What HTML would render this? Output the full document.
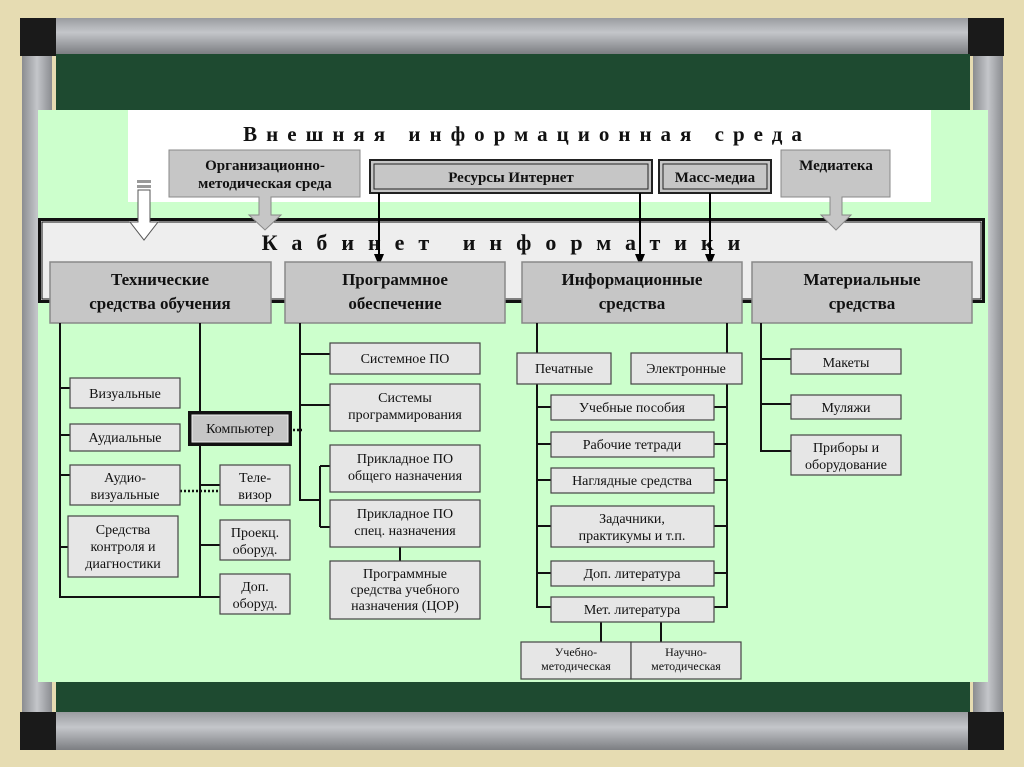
<!DOCTYPE html>
<html><head><meta charset="utf-8"><style>
html,body{margin:0;padding:0;background:#e6dcb2}
svg{display:block}
text{font-family:"Liberation Serif",serif;fill:#111}
.b{font-weight:bold}
</style></head><body>
<svg width="1024" height="767" viewBox="0 0 1024 767" xmlns="http://www.w3.org/2000/svg">
<defs>
<linearGradient id="rh" x1="0" y1="0" x2="0" y2="1"><stop offset="0" stop-color="#9a9ca0"/><stop offset=".4" stop-color="#c4c6ca"/><stop offset="1" stop-color="#7c7e82"/></linearGradient>
<linearGradient id="rv" x1="0" y1="0" x2="1" y2="0"><stop offset="0" stop-color="#8a8c90"/><stop offset=".5" stop-color="#c4c6ca"/><stop offset="1" stop-color="#8a8c90"/></linearGradient>
</defs>
<rect width="1024" height="767" fill="#e6dcb2"/>
<rect x="22" y="20" width="30" height="712" fill="url(#rv)"/>
<rect x="973" y="20" width="30" height="712" fill="url(#rv)"/>
<rect x="20" y="18" width="984" height="36" fill="url(#rh)"/>
<rect x="20" y="712" width="984" height="38" fill="url(#rh)"/>
<rect x="20" y="18" width="36" height="38" fill="#1a1a1a"/>
<rect x="968" y="18" width="36" height="38" fill="#1a1a1a"/>
<rect x="20" y="712" width="36" height="38" fill="#1a1a1a"/>
<rect x="968" y="712" width="36" height="38" fill="#1a1a1a"/>
<rect x="56" y="54" width="914" height="658" fill="#1e4a30"/>
<rect x="38" y="110" width="950" height="572" fill="#ccffcc"/>
<rect x="128" y="110" width="803" height="92" fill="#fff"/>
<text x="527" y="141" text-anchor="middle" class="b" font-size="21" letter-spacing="9">Внешняя   информационная   среда</text>
<rect x="38" y="218" width="947" height="85" fill="#111"/>
<rect x="41" y="221" width="941" height="79" fill="#eee"/>
<rect x="42" y="222" width="939" height="77" fill="none" stroke="#111" stroke-width="1"/>
<text x="508" y="250" text-anchor="middle" font-size="22" class="b" letter-spacing="14">Кабинет  информатики</text>
<rect x="137" y="180" width="14" height="3" fill="#999"/><rect x="137" y="185" width="14" height="3" fill="#999"/>
<path d="M138 190 H150 V222 H158 L144 240 L130 222 H138 Z" fill="#fff" stroke="#555"/>
<path d="M169 150 H360 V197 H271 V215 H281 L265 230 L249 215 H259 V197 H169 Z" fill="#c6c6c6" stroke="#888"/>
<text x="265" y="170" text-anchor="middle" class="b" font-size="15">Организационно-</text>
<text x="265" y="188" text-anchor="middle" class="b" font-size="15">методическая среда</text>
<path d="M781 150 H890 V197 H842 V215 H851 L836 230 L821 215 H830 V197 H781 Z" fill="#c6c6c6" stroke="#888"/>
<text x="836" y="170" text-anchor="middle" class="b" font-size="15">Медиатека</text>
<rect x="370" y="160" width="282" height="33" fill="#c6c6c6" stroke="#222" stroke-width="2"/>
<rect x="374" y="164" width="274" height="25" fill="none" stroke="#222" stroke-width="1"/>
<text x="511" y="182" text-anchor="middle" class="b" font-size="15">Ресурсы Интернет</text>
<rect x="659" y="160" width="112" height="33" fill="#c6c6c6" stroke="#222" stroke-width="2"/>
<rect x="663" y="164" width="104" height="25" fill="none" stroke="#222" stroke-width="1"/>
<text x="715" y="182" text-anchor="middle" class="b" font-size="15">Масс-медиа</text>
<g stroke="#000" stroke-width="2"><line x1="379" y1="193" x2="379" y2="255"/><line x1="640" y1="193" x2="640" y2="255"/><line x1="710" y1="193" x2="710" y2="255"/></g>
<g fill="#000"><path d="M374 254 L384 254 L379 266 Z"/><path d="M635 254 L645 254 L640 266 Z"/><path d="M705 254 L715 254 L710 266 Z"/></g>
<g fill="#c6c6c6" stroke="#888" stroke-width="1.5">
<rect x="50" y="262" width="221" height="61"/><rect x="285" y="262" width="220" height="61"/>
<rect x="522" y="262" width="220" height="61"/><rect x="752" y="262" width="220" height="61"/>
</g>
<g class="b" font-size="17" text-anchor="middle">
<text x="160" y="285">Технические</text><text x="160" y="309">средства обучения</text>
<text x="395" y="285">Программное</text><text x="395" y="309">обеспечение</text>
<text x="632" y="285">Информационные</text><text x="632" y="309">средства</text>
<text x="862" y="285">Материальные</text><text x="862" y="309">средства</text>
</g>
<g stroke="#111" stroke-width="2" fill="none">
<path d="M60 323 V597 H222 M200 323 V597"/>
<path d="M60 388 H70 M60 435 H70 M60 475 H70 M60 547 H68 M200 485 H220 M200 545 H220"/>
<path d="M300 323 V500 H320 M300 354 H330 M300 405 H330 M320 466 V527 M320 466 H330 M320 527 H330 M400 547 V561"/>
<path d="M537 323 V353 M727 323 V353 M537 384 V607 H551 M727 384 V607 H714"/>
<path d="M537 407 H551 M537 444 H551 M537 480 H551 M537 526 H551 M537 573 H551 M714 407 H727 M714 444 H727 M714 480 H727 M714 526 H727 M714 573 H727 M601 622 V642 M661 622 V642"/>
<path d="M761 323 V451 H791 M761 359 H791 M761 404 H791"/>
</g>
<g stroke="#111" stroke-width="2.5" stroke-dasharray="2 2"><line x1="180" y1="491" x2="220" y2="491"/><line x1="293" y1="430" x2="302" y2="430"/></g>
<g fill="#e6e6e6" stroke="#444" stroke-width="1.2">
<rect x="70" y="378" width="110" height="30"/><rect x="70" y="424" width="110" height="27"/>
<rect x="70" y="465" width="110" height="40"/><rect x="68" y="516" width="110" height="61"/>
<rect x="220" y="465" width="70" height="40"/><rect x="220" y="520" width="70" height="40"/><rect x="220" y="574" width="70" height="40"/>
<rect x="330" y="343" width="150" height="31"/><rect x="330" y="384" width="150" height="47"/>
<rect x="330" y="445" width="150" height="47"/><rect x="330" y="500" width="150" height="47"/><rect x="330" y="561" width="150" height="58"/>
<rect x="517" y="353" width="94" height="31"/><rect x="631" y="353" width="111" height="31"/>
<rect x="551" y="395" width="163" height="25"/><rect x="551" y="432" width="163" height="25"/><rect x="551" y="468" width="163" height="25"/>
<rect x="551" y="506" width="163" height="41"/><rect x="551" y="561" width="163" height="25"/><rect x="551" y="597" width="163" height="25"/>
<rect x="521" y="642" width="110" height="37"/><rect x="631" y="642" width="110" height="37"/>
<rect x="791" y="349" width="110" height="25"/><rect x="791" y="395" width="110" height="24"/><rect x="791" y="435" width="110" height="40"/>
</g>
<rect x="188" y="411" width="104" height="35" fill="#111"/>
<rect x="192" y="415" width="96" height="27" fill="#c6c6c6" stroke="#eee" stroke-width="1"/>
<g font-size="14" text-anchor="middle">
<text x="125" y="398">Визуальные</text><text x="125" y="442">Аудиальные</text>
<text x="125" y="482">Аудио-</text><text x="125" y="499">визуальные</text>
<text x="123" y="534">Средства</text><text x="123" y="551">контроля и</text><text x="123" y="568">диагностики</text>
<text x="240" y="433">Компьютер</text>
<text x="255" y="482">Теле-</text><text x="255" y="499">визор</text>
<text x="255" y="537">Проекц.</text><text x="255" y="554">оборуд.</text>
<text x="255" y="591">Доп.</text><text x="255" y="608">оборуд.</text>
<text x="405" y="363">Системное ПО</text>
<text x="405" y="402">Системы</text><text x="405" y="419">программирования</text>
<text x="405" y="463">Прикладное ПО</text><text x="405" y="480">общего назначения</text>
<text x="405" y="518">Прикладное ПО</text><text x="405" y="535">спец. назначения</text>
<text x="405" y="578">Программные</text><text x="405" y="594">средства учебного</text><text x="405" y="610">назначения (ЦОР)</text>
<text x="564" y="373">Печатные</text><text x="686" y="373">Электронные</text>
<text x="632" y="412">Учебные пособия</text><text x="632" y="449">Рабочие тетради</text><text x="632" y="485">Наглядные средства</text>
<text x="632" y="523">Задачники,</text><text x="632" y="540">практикумы и т.п.</text>
<text x="632" y="578">Доп. литература</text><text x="632" y="614">Мет. литература</text>
<text x="846" y="367">Макеты</text><text x="846" y="412">Муляжи</text>
<text x="846" y="452">Приборы и</text><text x="846" y="469">оборудование</text>
</g>
<g font-size="12" text-anchor="middle">
<text x="576" y="656">Учебно-</text><text x="576" y="670">методическая</text>
<text x="686" y="656">Научно-</text><text x="686" y="670">методическая</text>
</g>
</svg>
</body></html>
